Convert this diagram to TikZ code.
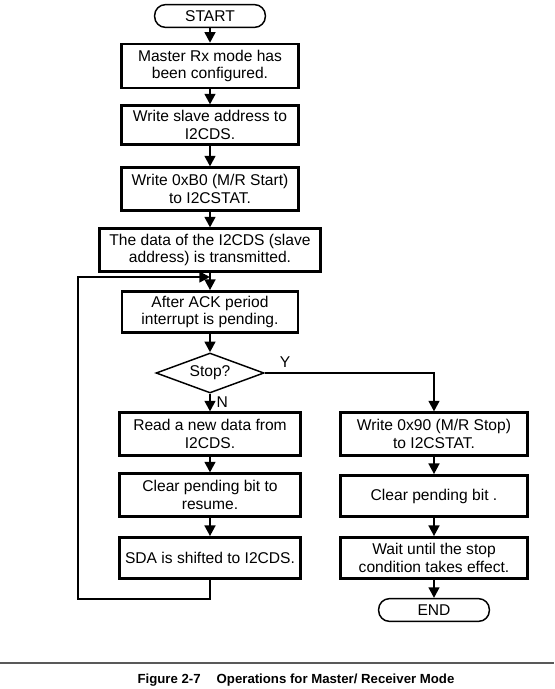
\documentclass[tikz,border=0pt]{standalone}
\usepackage{fontspec}
\setmainfont{Liberation Sans}
\usetikzlibrary{shapes.geometric,arrows.meta}

\begin{document}
\begin{tikzpicture}[x=0.75pt,y=-0.75pt,
    font=\fontsize{11.7pt}{13pt}\selectfont,
    box/.style={draw,line width=1.8pt,align=center,inner sep=0pt},
    term/.style={draw,line width=1.1pt,rounded corners=8pt,inner sep=0pt,
      minimum width=83pt,minimum height=17pt},
    dec/.style={draw,diamond,aspect=2.7,line width=1.1pt,inner sep=1pt,
      minimum width=81pt,minimum height=30pt},
    >={Triangle[length=8pt,width=8pt]}]
  \useasboundingbox (0,0) rectangle (554,689);
  \draw
    (210,16) node[term] (start){START}
    (210,66) node[box,minimum width=133pt,minimum height=33pt] (cfg){Master Rx mode has\\been configured.}
    (210,125) node[box,minimum width=133pt,minimum height=29pt] (addr){Write slave address to\\I2CDS.}
    (210,189) node[box,minimum width=133pt,minimum height=32pt] (mrs){Write 0xB0 (M/R Start)\\to I2CSTAT.}
    (210,250) node[box,minimum width=166pt,minimum height=32pt] (tx){The data of the I2CDS (slave\\address) is transmitted.}
    (210,312) node[box,minimum width=132pt,minimum height=31pt] (ack){After ACK period\\interrupt is pending.}
    (210,373) node[dec] (stop){Stop?}
    (210,434) node[box,minimum width=136pt,minimum height=32pt] (rd){Read a new data from\\I2CDS.}
    (210,495) node[box,minimum width=136pt,minimum height=32pt] (clr){Clear pending bit to\\resume.}
    (210,558) node[box,minimum width=136pt,minimum height=31pt] (sda){SDA is shifted to I2CDS.}
    (434,434) node[box,minimum width=140pt,minimum height=32pt] (mrp){Write 0x90 (M/R Stop)\\to I2CSTAT.}
    (434,496) node[box,minimum width=140pt,minimum height=31pt] (clrb){Clear pending bit .}
    (434,558) node[box,minimum width=140pt,minimum height=31pt] (wait){Wait until the stop\\condition takes effect.}
    (434,610) node[term] (end){END};
  \coordinate (loop) at (78,599);
  \begin{scope}[->,line width=1.8pt]
    \draw (start) to (cfg);
    \draw (cfg) to (addr);
    \draw (addr) to (mrs);
    \draw (mrs) to (tx);
    \draw (tx) to (ack);
    \draw (ack) to (stop);
    \draw (stop) to node[right,inner sep=4pt]{N} (rd);
    \draw (rd) to (clr);
    \draw (clr) to (sda);
    \draw (sda.south) |- (loop) |- (210,277);
    \draw (stop.east) -| node[pos=0.06,above,inner sep=3pt]{Y} (mrp.north);
    \draw (mrp) to (clrb);
    \draw (clrb) to (wait);
    \draw (wait) to (end);
  \end{scope}
  \draw[gray!70!black,line width=1pt] (0,663) -- (554,663);
  \node[font=\fontsize{9.9pt}{12pt}\selectfont\bfseries] (cap) at (296,680)
    {Figure 2-7\hspace{12pt}Operations for Master/ Receiver Mode};
\end{tikzpicture}
\end{document}
